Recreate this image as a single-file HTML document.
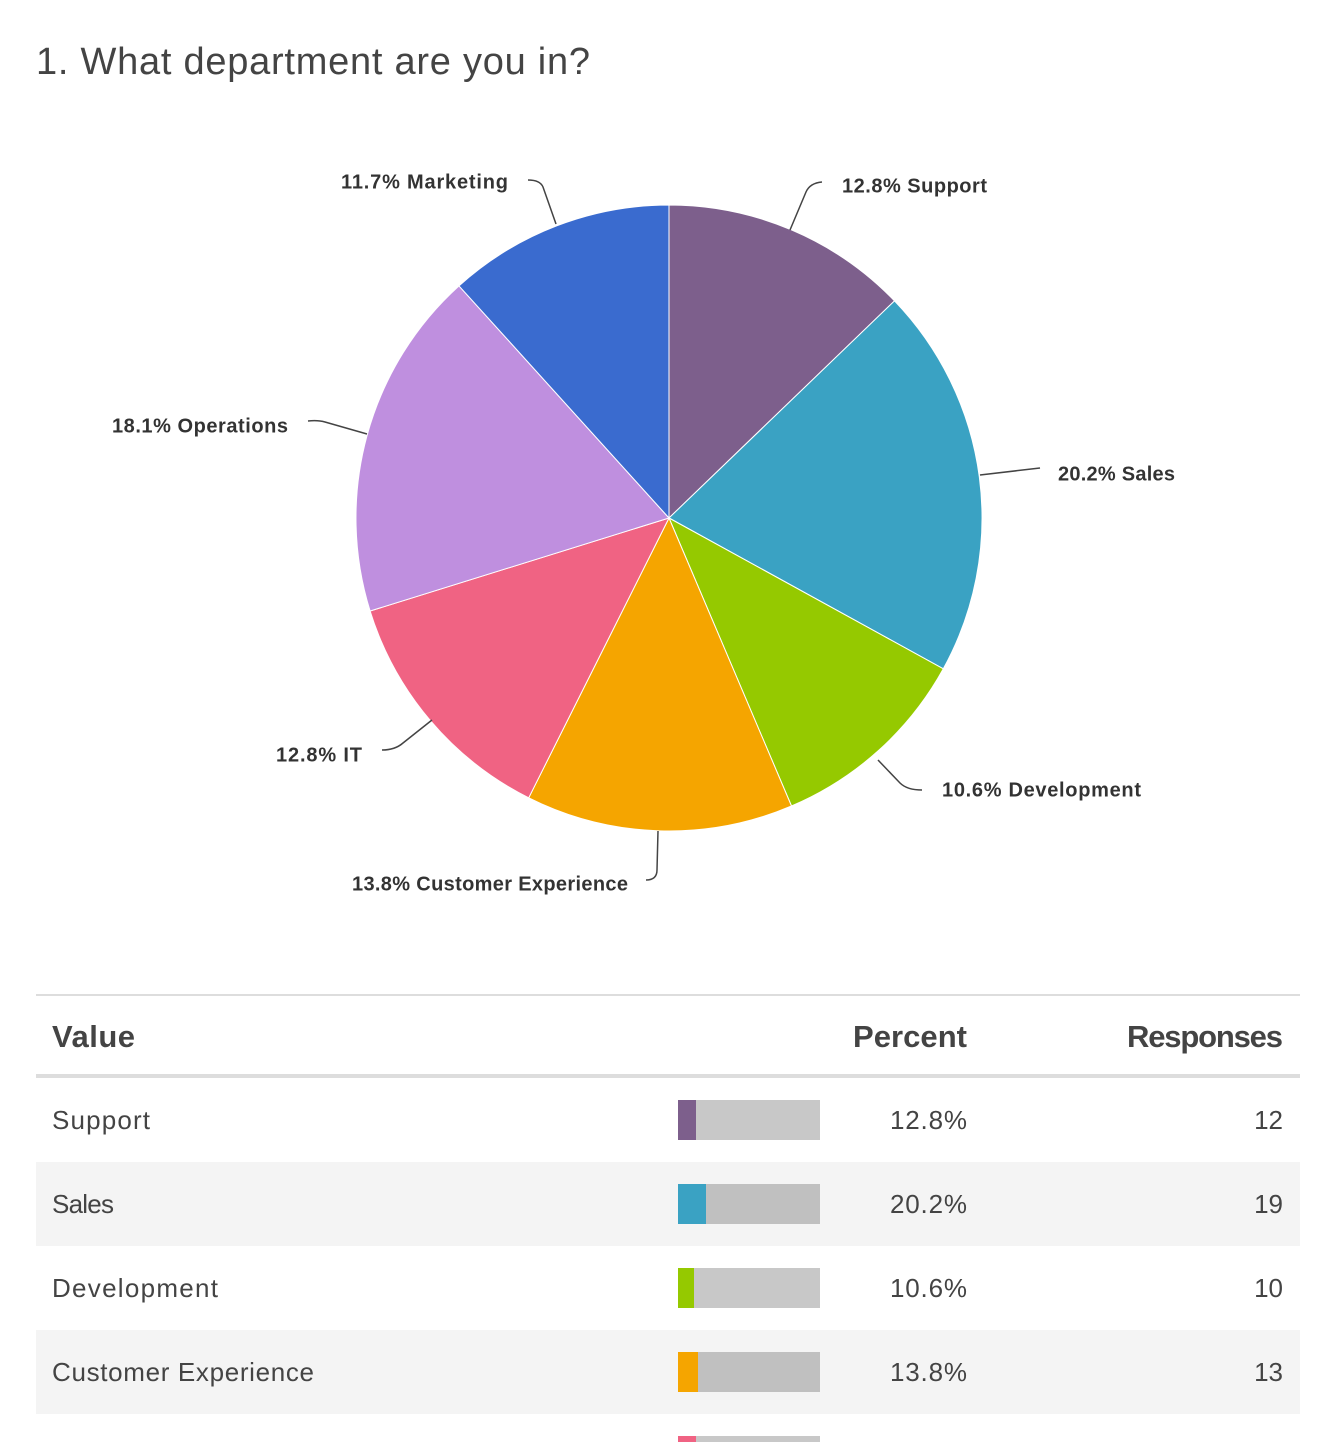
<!DOCTYPE html>
<html><head><meta charset="utf-8"><style>
body{margin:0;background:#fff;width:1330px;height:1442px;overflow:hidden;font-family:"Liberation Sans",sans-serif}
</style></head><body>
<svg width="1330" height="1442" xmlns="http://www.w3.org/2000/svg" font-family="Liberation Sans, sans-serif">
<text x="36" y="74" font-size="38" fill="#444" textLength="554">1. What department are you in?</text>
<g stroke="#fff" stroke-width="1">
<path d="M669,518 L669,205 A313,313 0 0 1 894.5,300.9 Z" fill="#7d5f8c"/>
<path d="M669,518 L894.5,300.9 A313,313 0 0 1 943.3,668.8 Z" fill="#3aa2c3"/>
<path d="M669,518 L943.3,668.8 A313,313 0 0 1 791.5,806 Z" fill="#95c900"/>
<path d="M669,518 L791.5,806 A313,313 0 0 1 528.7,797.8 Z" fill="#f5a500"/>
<path d="M669,518 L528.7,797.8 A313,313 0 0 1 370.1,611 Z" fill="#f06383"/>
<path d="M669,518 L370.1,611 A313,313 0 0 1 459,285.9 Z" fill="#bf8fdf"/>
<path d="M669,518 L459,285.9 A313,313 0 0 1 669,205 Z" fill="#3a6bcf"/>
</g>
<g fill="none" stroke="#444" stroke-width="1.5">
<path d="M790,230 L806,192 Q810,183 822,182"/>
<path d="M980,475 L1040,468"/>
<path d="M878,760 L900,783 Q907,790 922,790"/>
<path d="M658,831 L657,870 Q657,880 646,880"/>
<path d="M432,720 L403,743 Q395,750 382,750"/>
<path d="M367,434 L325,422 Q318,420 308,421"/>
<path d="M556,224 L543,187 Q540,180 528,180"/>
</g>
<g font-size="20" font-weight="bold" fill="#333" dominant-baseline="middle">
<text x="842" y="187" textLength="145">12.8% Support</text>
<text x="1058" y="475" textLength="117">20.2% Sales</text>
<text x="942" y="791" textLength="199">10.6% Development</text>
<text x="628" y="885" text-anchor="end" textLength="276">13.8% Customer Experience</text>
<text x="362" y="756" text-anchor="end" textLength="86">12.8% IT</text>
<text x="288" y="427" text-anchor="end" textLength="176">18.1% Operations</text>
<text x="508" y="183" text-anchor="end" textLength="167">11.7% Marketing</text>
</g>
<rect x="36" y="994" width="1264" height="2" fill="#ddd"/>
<g font-size="31" font-weight="bold" fill="#444">
<text x="52" y="1047" textLength="83">Value</text>
<text x="967" y="1047" text-anchor="end" textLength="114">Percent</text>
<text x="1283" y="1047" text-anchor="end" textLength="156">Responses</text>
</g>
<rect x="36" y="1074" width="1264" height="4" fill="#ddd"/>
<rect x="36" y="1162" width="1264" height="84" fill="#f4f4f4"/>
<rect x="36" y="1330" width="1264" height="84" fill="#f4f4f4"/>
<g font-size="26" fill="#444">
<text x="52" y="1129" textLength="98">Support</text><text x="967" y="1129" text-anchor="end" textLength="77">12.8%</text><text x="1283" y="1129" text-anchor="end">12</text>
<text x="52" y="1213" textLength="62">Sales</text><text x="967" y="1213" text-anchor="end" textLength="77">20.2%</text><text x="1283" y="1213" text-anchor="end">19</text>
<text x="52" y="1297" textLength="166">Development</text><text x="967" y="1297" text-anchor="end" textLength="77">10.6%</text><text x="1283" y="1297" text-anchor="end">10</text>
<text x="52" y="1381" textLength="262">Customer Experience</text><text x="967" y="1381" text-anchor="end" textLength="77">13.8%</text><text x="1283" y="1381" text-anchor="end">13</text>
</g>
<rect x="678" y="1100" width="142" height="40" fill="#c8c8c8"/><rect x="678" y="1100" width="18" height="40" fill="#7d5f8c"/>
<rect x="678" y="1184" width="142" height="40" fill="#c0c0c0"/><rect x="678" y="1184" width="28" height="40" fill="#3aa2c3"/>
<rect x="678" y="1268" width="142" height="40" fill="#c8c8c8"/><rect x="678" y="1268" width="16" height="40" fill="#95c900"/>
<rect x="678" y="1352" width="142" height="40" fill="#c0c0c0"/><rect x="678" y="1352" width="20" height="40" fill="#f5a500"/>
<rect x="678" y="1436" width="142" height="40" fill="#c8c8c8"/><rect x="678" y="1436" width="18" height="40" fill="#f06383"/>
</svg>
</body></html>
